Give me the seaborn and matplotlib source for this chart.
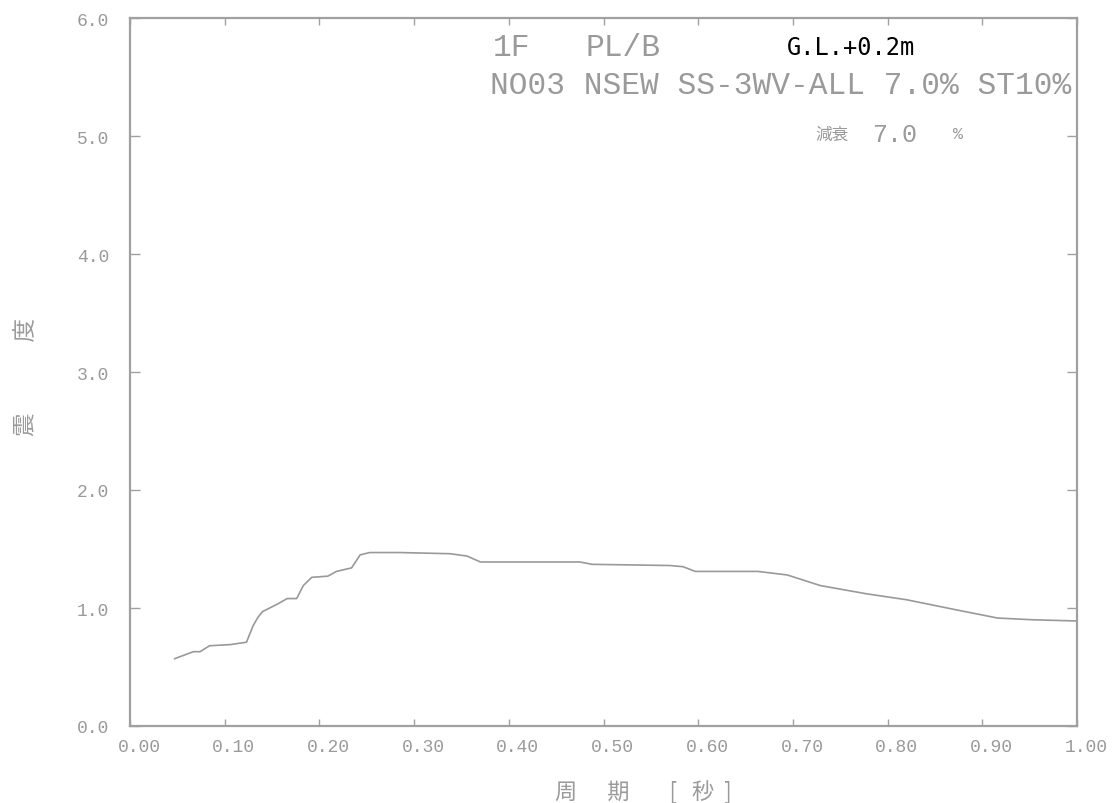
import matplotlib
matplotlib.use("Agg")
import matplotlib.pyplot as plt
import matplotlib.transforms as mtransforms
import pandas as pd
import seaborn as sns

# response spectrum
period = [0.047, 0.067, 0.074, 0.084, 0.106, 0.123, 0.130, 0.135, 0.140, 0.155,
          0.166, 0.176, 0.183, 0.192, 0.209, 0.218, 0.234, 0.243, 0.253, 0.285,
          0.338, 0.356, 0.370, 0.475, 0.488, 0.570, 0.584, 0.597, 0.663, 0.694,
          0.729, 0.778, 0.820, 0.869, 0.916, 0.954, 1.000]
seismic = [0.57, 0.63, 0.63, 0.68, 0.69, 0.71, 0.85, 0.92, 0.97, 1.03,
           1.08, 1.08, 1.19, 1.26, 1.27, 1.31, 1.34, 1.45, 1.47, 1.47,
           1.46, 1.44, 1.39, 1.39, 1.37, 1.36, 1.35, 1.31, 1.31, 1.28,
           1.19, 1.12, 1.07, 0.99, 0.915, 0.90, 0.89]

x_ticks = [0.0, 0.1, 0.2, 0.3, 0.4, 0.5, 0.6, 0.7, 0.8, 0.9, 1.0]
x_labels = ["0.00", "0.10", "0.20", "0.30", "0.40", "0.50",
            "0.60", "0.70", "0.80", "0.90", "1.00"]
y_ticks = [0.0, 1.0, 2.0, 3.0, 4.0, 5.0, 6.0]
y_labels = ["0.0", "1.0", "2.0", "3.0", "4.0", "5.0", "6.0"]

GRAY = "#9a9a9a"

sns.set_style("ticks")
plt.rcParams["font.family"] = ["Liberation Mono", "Noto Sans CJK JP"]

df = pd.DataFrame({"period": period, "seismic": seismic})

fig = plt.figure(figsize=(11.14, 8.04), dpi=100)
ax = fig.add_axes([130 / 1114, 77 / 804, 947 / 1114, 708 / 804])

sns.lineplot(data=df, x="period", y="seismic", ax=ax, color="#999999",
             linewidth=1.2, estimator=None, sort=True)

ax.set_xlim(0, 1)
ax.set_ylim(0, 6)
ax.set_xticks(x_ticks)
ax.set_xticklabels(x_labels)
ax.set_yticks(y_ticks)
ax.set_yticklabels(y_labels)

for side in ["left", "right", "top", "bottom"]:
    ax.spines[side].set_visible(True)
    ax.spines[side].set_color("#a0a0a0")
    ax.spines[side].set_linewidth(1.6)

ax.tick_params(axis="x", direction="in", top=True, bottom=True, length=5,
               width=1, color="#a0a0a0", labelcolor=GRAY, labelsize=13, pad=9)
ax.tick_params(axis="y", direction="in", left=True, right=True, length=7,
               width=1, color="#a0a0a0", labelcolor=GRAY, labelsize=13, pad=15)

# labels sit a little right of their ticks in the original
offset = mtransforms.ScaledTranslation(9 / 100, 0, fig.dpi_scale_trans)
for lab in ax.get_xticklabels():
    lab.set_transform(lab.get_transform() + offset)

ax.set_xlabel("周      期        [   秒  ]", fontsize=16, color=GRAY, ha="left",
              family=["Noto Sans CJK JP"])
ax.xaxis.set_label_coords(0.449, -0.075)
ax.set_ylabel("震　　　度", fontsize=17, color=GRAY,
              family=["Noto Sans CJK JP"])
ax.yaxis.set_label_coords(-0.097, 0.494)

# header texts
ax.text(0.383, 5.754, "1F", fontsize=22.5, color=GRAY, va="center")
ax.text(0.4805, 5.754, "PL/B", fontsize=22.5, color=GRAY, va="center")
ax.text(0.6938, 5.754, "G.L.+0.2m", fontsize=17, color="black", va="center",
        family=["DejaVu Sans Mono"])
ax.text(0.380, 5.432, "NO03 NSEW SS-3WV-ALL 7.0% ST10%", fontsize=22.5,
        color=GRAY, va="center")
ax.text(0.7233, 5.017, "減衰", fontsize=12, color=GRAY, va="center",
        family=["Noto Sans CJK JP"])
ax.text(0.7835, 5.017, "7.0", fontsize=18, color=GRAY, va="center")
ax.text(0.869, 5.017, "%", fontsize=12, color=GRAY, va="center")

fig.savefig("out.png", dpi=100)
